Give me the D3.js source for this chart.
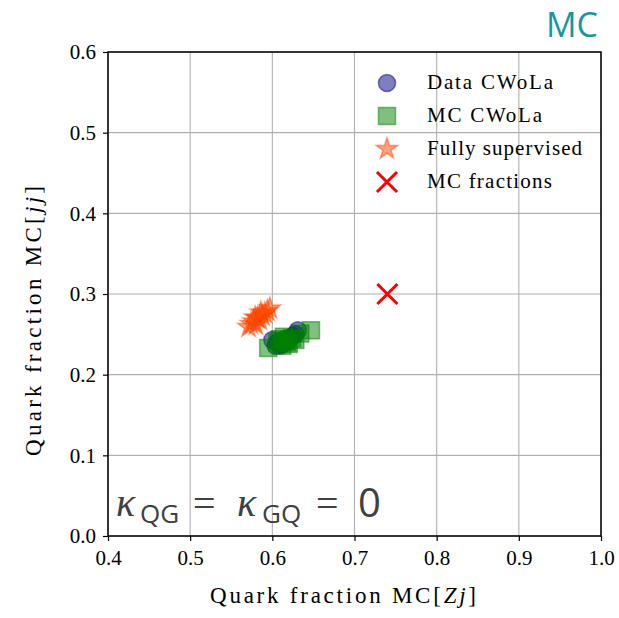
<!DOCTYPE html>
<html>
<head>
<meta charset="utf-8">
<script src="https://cdn.jsdelivr.net/npm/d3@7"></script>
<style>
  body { margin: 0; background: #fff; }
</style>
</head>
<body>
<div class="chart"></div>
<script>
// data
var xTicks = [0.4, 0.5, 0.6, 0.7, 0.8, 0.9, 1.0];
var yTicks = [0.0, 0.1, 0.2, 0.3, 0.4, 0.5, 0.6];

var dataX = [0.600, 0.606, 0.612, 0.615, 0.618, 0.622, 0.625, 0.628, 0.631, 0.610, 0.604];
var dataY = [0.243, 0.240, 0.238, 0.244, 0.241, 0.246, 0.248, 0.250, 0.255, 0.236, 0.236];

var mcX = [0.595, 0.606, 0.612, 0.616, 0.620, 0.624, 0.628, 0.634, 0.647, 0.614, 0.618, 0.609];
var mcY = [0.233, 0.240, 0.236, 0.242, 0.238, 0.245, 0.243, 0.251, 0.255, 0.247, 0.240, 0.244];

var fsX = [0.571, 0.574, 0.577, 0.580, 0.582, 0.585, 0.588, 0.591, 0.594, 0.597, 0.579, 0.586];
var fsY = [0.259, 0.263, 0.266, 0.262, 0.270, 0.268, 0.273, 0.276, 0.279, 0.282, 0.271, 0.277];

var truthX = [0.74];
var truthY = [0.30];

var legendLabels = ["Data CWoLa", "MC CWoLa", "Fully supervised", "MC fractions"];

var SERIF = "'Liberation Serif', serif";
var SANS = "'Open Sans', sans-serif";

// chart setup
var svgWidth = 619, svgHeight = 618;
var margin = {top: 52, right: 18, bottom: 82, left: 108};
var width = svgWidth - margin.left - margin.right;
var height = svgHeight - margin.top - margin.bottom;

var svg = d3.select(".chart").append("svg")
  .attr("width", svgWidth)
  .attr("height", svgHeight);

var chartGroup = svg.append("g")
  .attr("transform", `translate(${margin.left}, ${margin.top})`);

var x = d3.scaleLinear().domain([0.4, 1.0]).range([0, width]);
var y = d3.scaleLinear().domain([0.0, 0.6]).range([height, 0]);

// grid
chartGroup.append("g").selectAll("line").data(xTicks).enter().append("line")
  .attr("x1", d => x(d)).attr("x2", d => x(d))
  .attr("y1", 0).attr("y2", height)
  .attr("stroke", "#b0b0b0").attr("stroke-width", 1.1);
chartGroup.append("g").selectAll("line").data(yTicks).enter().append("line")
  .attr("y1", d => y(d)).attr("y2", d => y(d))
  .attr("x1", 0).attr("x2", width)
  .attr("stroke", "#b0b0b0").attr("stroke-width", 1.1);

// axes
var bottomAxis = d3.axisBottom(x).tickValues(xTicks).tickFormat(d3.format(".1f")).tickSize(5).tickSizeOuter(0).tickPadding(8);
var leftAxis = d3.axisLeft(y).tickValues(yTicks).tickFormat(d3.format(".1f")).tickSize(5).tickSizeOuter(0).tickPadding(7);

var gx = chartGroup.append("g").attr("transform", `translate(0, ${height})`).call(bottomAxis);
var gy = chartGroup.append("g").call(leftAxis);
[gx, gy].forEach(function (g) {
  g.select(".domain").remove();
  g.attr("font-family", null).attr("font-size", null);
  g.selectAll("line").attr("stroke", "#000").attr("stroke-width", 1.2);
  g.selectAll("text").attr("fill", "#000")
    .style("font-family", SERIF).style("font-size", "21px");
});
gx.selectAll("text").attr("dy", "0.75em");

// frame
chartGroup.append("rect")
  .attr("width", width).attr("height", height)
  .attr("fill", "none").attr("stroke", "#000").attr("stroke-width", 1.5);

// markers
var pts = function (xs, ys) { return xs.map((v, i) => [v, ys[i]]); };

var circleSym = d3.symbol().type(d3.symbolCircle).size(230);
var squareSym = d3.symbol().type(d3.symbolSquare).size(290);
var starSym = d3.symbol().type(d3.symbolStar).size(140);
var crossSym = d3.symbol().type(d3.symbolX).size(265);

chartGroup.append("g").selectAll("path").data(pts(dataX, dataY)).enter().append("path")
  .attr("d", circleSym)
  .attr("transform", d => `translate(${x(d[0])}, ${y(d[1])})`)
  .attr("fill", "rgba(0,0,128,0.5)").attr("stroke", "rgba(0,0,128,0.5)").attr("stroke-width", 1.5);

chartGroup.append("g").selectAll("path").data(pts(mcX, mcY)).enter().append("path")
  .attr("d", squareSym)
  .attr("transform", d => `translate(${x(d[0])}, ${y(d[1])})`)
  .attr("fill", "rgba(0,128,0,0.5)").attr("stroke", "rgba(0,128,0,0.5)").attr("stroke-width", 1.5);

chartGroup.append("g").selectAll("path").data(pts(fsX, fsY)).enter().append("path")
  .attr("d", starSym)
  .attr("transform", d => `translate(${x(d[0])}, ${y(d[1])})`)
  .attr("fill", "rgba(255,69,0,0.5)").attr("stroke", "rgba(255,69,0,0.5)").attr("stroke-width", 1.5);

chartGroup.append("g").selectAll("path").data(pts(truthX, truthY)).enter().append("path")
  .attr("d", crossSym)
  .attr("transform", d => `translate(${x(d[0])}, ${y(d[1])})`)
  .attr("fill", "none").attr("stroke", "#ff0000").attr("stroke-width", 3);

// legend (no frame, grid shows through)
var legendSyms = [circleSym, squareSym, starSym, crossSym];
var legendFill = ["rgba(0,0,128,0.5)", "rgba(0,128,0,0.5)", "rgba(255,69,0,0.5)", "none"];
var legendStroke = ["rgba(0,0,128,0.5)", "rgba(0,128,0,0.5)", "rgba(255,69,0,0.5)", "#ff0000"];
var legendWidths = [126, 115, 155, 125];
var legend = svg.append("g").attr("transform", "translate(387, 83)");
legendLabels.forEach(function (lab, i) {
  var row = legend.append("g").attr("transform", `translate(0, ${i * 33})`);
  row.append("path").attr("d", legendSyms[i])
    .attr("fill", legendFill[i]).attr("stroke", legendStroke[i])
    .attr("stroke-width", i === 3 ? 3 : 1.5);
  row.append("text").attr("x", 40).attr("y", 6)
    .style("font-family", SERIF).style("font-size", "21px")
    .attr("textLength", legendWidths[i]).attr("lengthAdjust", "spacing")
    .attr("fill", "#000").text(lab);
});

// axis labels
var xl = svg.append("text")
  .attr("x", 343).attr("y", 603)
  .attr("text-anchor", "middle")
  .attr("textLength", 266).attr("lengthAdjust", "spacing")
  .style("font-family", SERIF).style("font-size", "23px").attr("fill", "#000");
xl.append("tspan").text("Quark fraction MC[");
xl.append("tspan").attr("font-style", "italic").text("Zj");
xl.append("tspan").text("]");

var yl = svg.append("text")
  .attr("transform", "translate(41, 321) rotate(-90)")
  .attr("text-anchor", "middle")
  .attr("textLength", 270).attr("lengthAdjust", "spacing")
  .style("font-family", SERIF).style("font-size", "23px").attr("fill", "#000");
yl.append("tspan").text("Quark fraction MC[");
yl.append("tspan").attr("font-style", "italic").text("jj");
yl.append("tspan").text("]");

// top-right tag
svg.append("text")
  .attr("x", 598).attr("y", 37)
  .attr("text-anchor", "end")
  .style("font-family", SANS).style("font-size", "34px")
  .attr("fill", "#17969f")
  .text("MC");

// kappa annotation
var ann = svg.append("g").attr("fill", "#404040");
var annText = function (tx, ty, size, fam, italic, s) {
  ann.append("text").attr("x", tx).attr("y", ty)
    .style("font-family", fam).style("font-size", size + "px")
    .style("font-style", italic ? "italic" : "normal").text(s);
};
annText(116, 516, 40, SERIF, true, "κ");
annText(140, 523, 26, SANS, false, "QG");
annText(193, 517, 40, SERIF, false, "=");
annText(237, 516, 40, SERIF, true, "κ");
annText(262, 523, 26, SANS, false, "GQ");
annText(316, 517, 40, SERIF, false, "=");
annText(358, 517, 40, SANS, false, "0");
</script>
</body>
</html>
